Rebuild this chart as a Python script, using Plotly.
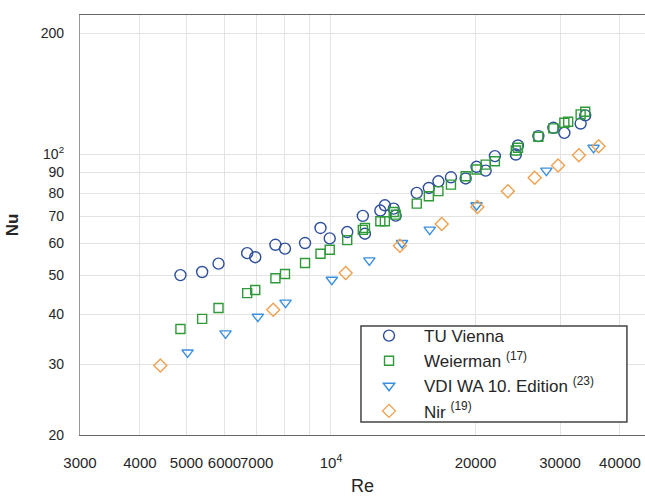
import plotly.graph_objects as go
import math

# TU Vienna
tu_re = [4857, 5390, 5830, 6690, 6954, 7660, 8020, 8830, 9510, 9940, 10810, 11650, 11770,
         12670, 12950, 13510, 13640, 15090, 15990, 16740, 17780, 19080, 20100, 21000, 21950,
         24270, 24520, 27040, 29060, 30630, 33120, 33860]
tu_nu = [50.0, 50.9, 53.4, 56.7, 55.4, 59.5, 58.2, 60.1, 65.5, 61.7, 64.0, 70.2, 63.4,
         72.4, 74.6, 73.2, 70.3, 80.1, 82.4, 85.6, 87.6, 87.0, 93.0, 91.0, 98.9,
         99.8, 105.1, 110.9, 116.3, 113.0, 119.2, 124.9]

# Weierman (17)
we_re = [4857, 5390, 5830, 6690, 6954, 7660, 8020, 8830, 9510, 9940, 10810, 11650, 11770,
         12670, 12950, 13510, 13640, 15090, 15990, 16740, 17780, 19080, 20100, 21000, 21950,
         24270, 24520, 27040, 29060, 30630, 31200, 33120, 33860]
we_nu = [36.7, 38.9, 41.4, 45.1, 45.9, 49.1, 50.3, 53.6, 56.5, 57.8, 61.1, 64.8, 65.5,
         68.1, 68.1, 71.8, 70.7, 75.3, 78.6, 80.9, 84.0, 88.1, 91.6, 94.2, 96.0,
         102.1, 103.7, 110.5, 115.9, 119.7, 120.4, 125.6, 127.5]

# VDI WA 10. Edition (23)
vdi_re = [5026, 6030, 7040, 8040, 10040, 12020, 14060, 16060, 20100, 28100, 35240]
vdi_nu = [32.1, 35.8, 39.4, 42.7, 48.7, 54.4, 60.1, 64.9, 74.6, 91.0, 103.7]

# Nir (19)
nir_re = [4410, 7580, 10730, 13920, 17010, 20180, 23360, 26570, 29720, 32850, 36100]
nir_nu = [29.8, 41.0, 50.6, 59.2, 67.0, 73.9, 80.9, 87.3, 93.7, 99.4, 104.7]

x_tickvals = [3000, 4000, 5000, 6000, 7000, 10000, 20000, 30000, 40000]
x_ticktext = ["3000", "4000", "5000", "6000", "7000", "10<sup>4</sup>", "20000", "30000", "40000"]
x_minor = [8000, 9000]
y_tickvals = [20, 30, 40, 50, 60, 70, 80, 90, 100, 200]
y_ticktext = ["20", "30", "40", "50", "60", "70", "80", "90", "10<sup>2</sup>", "200"]

series = [
    ("TU Vienna", tu_re, tu_nu, "circle-open", "#2d4e9c", 11),
    ("Weierman <sup>(17)</sup>", we_re, we_nu, "square-open", "#2e9a38", 9),
    ("VDI WA 10. Edition <sup>(23)</sup>", vdi_re, vdi_nu, "triangle-down-open", "#3a8fe0", 10),
    ("Nir <sup>(19)</sup>", nir_re, nir_nu, "diamond-open", "#f0a050", 10),
]

fig = go.Figure()
for name, xs, ys, sym, col, sz in series:
    fig.add_trace(go.Scatter(x=xs, y=ys, mode="markers", name=name,
                             marker=dict(symbol=sym, size=sz, color=col,
                                         line=dict(color=col, width=1.4))))

font = "Arial, Liberation Sans, Helvetica, sans-serif"
grid = "#e3e3e3"

# legend frame
fig.add_shape(type="rect", xref="paper", yref="paper",
              x0=0.4973, x1=0.968, y0=0.031, y1=0.2595,
              line=dict(color="#444444", width=1.5), fillcolor="white", layer="above")

fig.update_layout(
    width=645, height=496,
    margin=dict(l=80, r=0, t=15, b=61),
    paper_bgcolor="white", plot_bgcolor="white",
    font=dict(family=font, color="#262626", size=14),
    showlegend=True,
    legend=dict(x=0.485, y=0.2785, xanchor="left", yanchor="top",
                borderwidth=0, bgcolor="rgba(0,0,0,0)",
                font=dict(size=17, color="#262626"), itemwidth=60,
                tracegroupgap=0),
    xaxis=dict(type="log", range=[math.log10(3000), math.log10(45100)],
               tickvals=x_tickvals, ticktext=x_ticktext, tickangle=0,
               tickfont=dict(size=15), automargin=False,
               showgrid=True, gridcolor=grid, gridwidth=1,
               minor=dict(tickvals=x_minor, showgrid=True, gridcolor=grid, gridwidth=1, ticks=""),
               showline=True, linecolor="#666666", linewidth=1.2, mirror=True,
               ticks="", ticklabelstandoff=14, zeroline=False,
               title=dict(text="Re", font=dict(size=18), standoff=11)),
    yaxis=dict(type="log", range=[math.log10(20), math.log10(222)],
               tickvals=y_tickvals, ticktext=y_ticktext, automargin=False,
               showgrid=True, gridcolor=grid, gridwidth=1,
               showline=True, linecolor="#999999", linewidth=1.2, mirror=True,
               ticks="", ticklabelstandoff=12, zeroline=False,
               title=dict(text="<b>Nu</b>", font=dict(size=17), standoff=17)),
)

fig.write_html("out.html",
               config={"displayModeBar": False},
               post_script="document.body.style.margin='0';document.body.style.overflow='hidden';")
